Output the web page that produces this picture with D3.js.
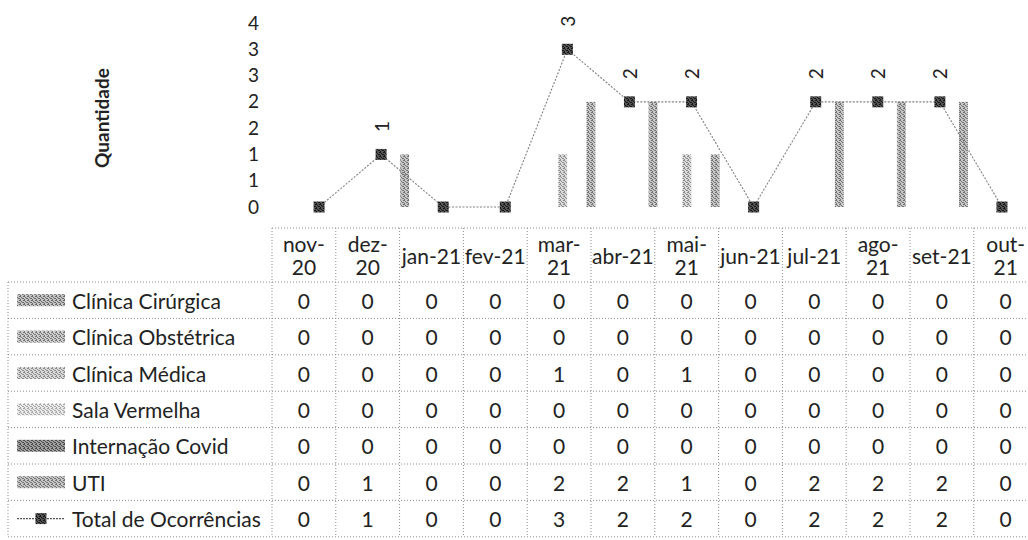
<!DOCTYPE html>
<html>
<head>
<meta charset="utf-8">
<script src="https://cdn.jsdelivr.net/npm/d3@7"></script>
<style>
  html, body { margin: 0; padding: 0; background: #fff; }
  svg { display: block; font-family: Lato, "Open Sans", sans-serif; }
</style>
</head>
<body>
<svg id="chart" width="1028" height="540"></svg>
<script>
// ---------- data ----------
const categories = ["nov-20","dez-20","jan-21","fev-21","mar-21","abr-21","mai-21","jun-21","jul-21","ago-21","set-21","out-21"];
const headerLabels = ["nov-\n20","dez-\n20","jan-21","fev-21","mar-\n21","abr-21","mai-\n21","jun-21","jul-21","ago-\n21","set-21","out-\n21"];
const seriesNames = ["Clínica Cirúrgica","Clínica Obstétrica","Clínica Médica","Sala Vermelha","Internação Covid","UTI"];
const clinicaCirurgica  = [0,0,0,0,0,0,0,0,0,0,0,0];
const clinicaObstetrica = [0,0,0,0,0,0,0,0,0,0,0,0];
const clinicaMedica     = [0,0,0,0,1,0,1,0,0,0,0,0];
const salaVermelha      = [0,0,0,0,0,0,0,0,0,0,0,0];
const internacaoCovid   = [0,0,0,0,0,0,0,0,0,0,0,0];
const uti               = [0,1,0,0,2,2,1,0,2,2,2,0];
const totalName = "Total de Ocorrências";
const totalOcorrencias  = [0,1,0,0,3,2,2,0,2,2,2,0];
const yTicks = [0,0.5,1,1.5,2,2.5,3,3.5];
const yTickLabels = ["0","1","1","2","2","3","3","4"];
const yTitle = "Quantidade";

const seriesValues = [clinicaCirurgica, clinicaObstetrica, clinicaMedica, salaVermelha, internacaoCovid, uti];
// texture colours (scanned halftone look)
const seriesTex = [["#6a6a6a","#c4c4c4"],["#767676","#cfcfcf"],["#8a8a8a","#dcdcdc"],["#a4a4a4","#ececec"],["#4a4a4a","#a2a2a2"],["#727272","#c8c8c8"]];
// fixed stipple cell pattern (4x4, 1 = dark pixel)
const stipple = [[1,0,0,1],[0,1,0,0],[0,0,1,1],[1,0,0,0]];

// ---------- layout ----------
const svg = d3.select("#chart");
const defs = svg.append("defs");
function makePattern(id, dark, light) {
  const p = defs.append("pattern").attr("id", id).attr("patternUnits", "userSpaceOnUse")
    .attr("width", 4).attr("height", 4);
  p.append("rect").attr("width", 4).attr("height", 4).attr("fill", light);
  stipple.forEach((row, r) => row.forEach((v, c) => {
    if (v) p.append("rect").attr("x", c).attr("y", r).attr("width", 1).attr("height", 1).attr("fill", dark);
  }));
}
seriesTex.forEach((c, i) => makePattern("tex" + i, c[0], c[1]));
makePattern("texMarker", "#151515", "#555555");

// plot scales
const x = d3.scaleBand().domain(categories).range([288, 1033]).padding(0);
const x1 = d3.scaleBand().domain(seriesNames).range([-28, 28]).paddingInner(0.06);
const y = d3.scaleLinear().domain([0, 3.5]).range([207, 23]);

// y axis
const yAxis = d3.axisLeft(y).tickValues(yTicks).tickFormat((d, i) => yTickLabels[i]).tickSize(0).tickPadding(3);
const gy = svg.append("g").attr("transform", "translate(262,0)").call(yAxis);
gy.select(".domain").remove();
gy.selectAll("text").attr("font-family", "Lato, sans-serif").attr("font-size", 19).attr("fill", "#222");

svg.append("text")
  .attr("transform", "translate(101,118) rotate(-90)")
  .attr("text-anchor", "middle").attr("dominant-baseline", "central")
  .attr("font-size", 19).attr("font-weight", "bold").attr("fill", "#222")
  .text(yTitle);

// bars
const barData = [];
seriesValues.forEach((vals, si) => vals.forEach((v, ci) => {
  if (v > 0) barData.push({ s: seriesNames[si], si, c: categories[ci], v });
}));
svg.append("g").selectAll("rect").data(barData).join("rect")
  .attr("x", d => x(d.c) + x.bandwidth() / 2 + x1(d.s))
  .attr("width", x1.bandwidth())
  .attr("y", d => y(d.v))
  .attr("height", d => y(0) - y(d.v))
  .attr("fill", d => "url(#tex" + d.si + ")");

// total line
const totalPts = categories.map((c, i) => ({ c, v: totalOcorrencias[i] }));
svg.append("path").datum(totalPts)
  .attr("d", d3.line().x(d => x(d.c) + x.bandwidth() / 2).y(d => y(d.v)))
  .attr("fill", "none").attr("stroke", "#808080").attr("stroke-width", 1.1).attr("stroke-dasharray", "2,1.5");

const ms = 11;
svg.append("g").selectAll("rect").data(totalPts).join("rect")
  .attr("x", d => x(d.c) + x.bandwidth() / 2 - ms / 2)
  .attr("y", d => y(d.v) - ms / 2)
  .attr("width", ms).attr("height", ms)
  .attr("fill", "url(#texMarker)");

svg.append("g").selectAll("text").data(totalPts.filter(d => d.v > 0)).join("text")
  .attr("transform", d => `translate(${x(d.c) + x.bandwidth() / 2},${y(d.v) - 28}) rotate(-90)`)
  .attr("text-anchor", "middle").attr("dominant-baseline", "central")
  .attr("font-size", 19).attr("fill", "#222")
  .text(d => d.v);

// ---------- data table ----------
const xt = d3.scaleBand().domain(categories).range([272, 272 + 12 * 63.8]).padding(0);
const rowNames = seriesNames.concat([totalName]);
const rowValues = seriesValues.concat([totalOcorrencias]);
const yt = d3.scaleBand().domain(rowNames).range([282, 282 + 7 * 36.4]).padding(0);
const headTop = 228, tableLeft = 8;
const lineStyle = g => g.attr("stroke", "#8c8c8c").attr("stroke-width", 1).attr("stroke-dasharray", "1,2");
const tl = svg.append("g");
tl.append("line").attr("x1", xt.range()[0]).attr("x2", xt.range()[1]).attr("y1", headTop).attr("y2", headTop).call(lineStyle);
const rowEdges = rowNames.map(r => yt(r)).concat([yt.range()[1]]);
tl.selectAll(".hl").data(rowEdges).join("line")
  .attr("x1", tableLeft).attr("x2", xt.range()[1]).attr("y1", d => d).attr("y2", d => d).call(lineStyle);
const colEdges = categories.map(c => xt(c)).concat([xt.range()[1]]);
tl.selectAll(".vl").data(colEdges).join("line")
  .attr("x1", d => d).attr("x2", d => d).attr("y1", headTop).attr("y2", yt.range()[1]).call(lineStyle);
tl.append("line").attr("x1", tableLeft).attr("x2", tableLeft).attr("y1", yt.range()[0]).attr("y2", yt.range()[1]).call(lineStyle);

// header labels
const hdr = svg.append("g").attr("font-size", 21).attr("fill", "#222").attr("text-anchor", "middle");
categories.forEach((c, i) => {
  const lines = headerLabels[i].split("\n");
  const cx = xt(c) + xt.bandwidth() / 2;
  const cy = (headTop + yt.range()[0]) / 2;
  lines.forEach((ln, k) => {
    hdr.append("text").attr("x", cx).attr("y", cy + (k - (lines.length - 1) / 2) * 23)
      .attr("dominant-baseline", "central").text(ln);
  });
});

// rows
const rows = svg.append("g").attr("font-size", 21).attr("fill", "#222");
rowNames.forEach((r, ri) => {
  const cy = yt(r) + yt.bandwidth() / 2;
  if (ri < seriesNames.length) {
    rows.append("rect").attr("x", 17).attr("y", cy - 6).attr("width", 48).attr("height", 12)
      .attr("fill", "url(#tex" + ri + ")");
  } else {
    rows.append("line").attr("x1", 17).attr("x2", 65).attr("y1", cy).attr("y2", cy)
      .attr("stroke", "#555").attr("stroke-width", 1.2).attr("stroke-dasharray", "2,1");
    rows.append("rect").attr("x", 41 - 5.5).attr("y", cy - 5.5).attr("width", 11).attr("height", 11)
      .attr("fill", "url(#texMarker)");
  }
  rows.append("text").attr("x", 72).attr("y", cy).attr("dominant-baseline", "central").text(r);
  categories.forEach((c, ci) => {
    rows.append("text").attr("x", xt(c) + xt.bandwidth() / 2).attr("y", cy)
      .attr("text-anchor", "middle").attr("dominant-baseline", "central")
      .text(rowValues[ri][ci]);
  });
});
</script>
</body>
</html>
